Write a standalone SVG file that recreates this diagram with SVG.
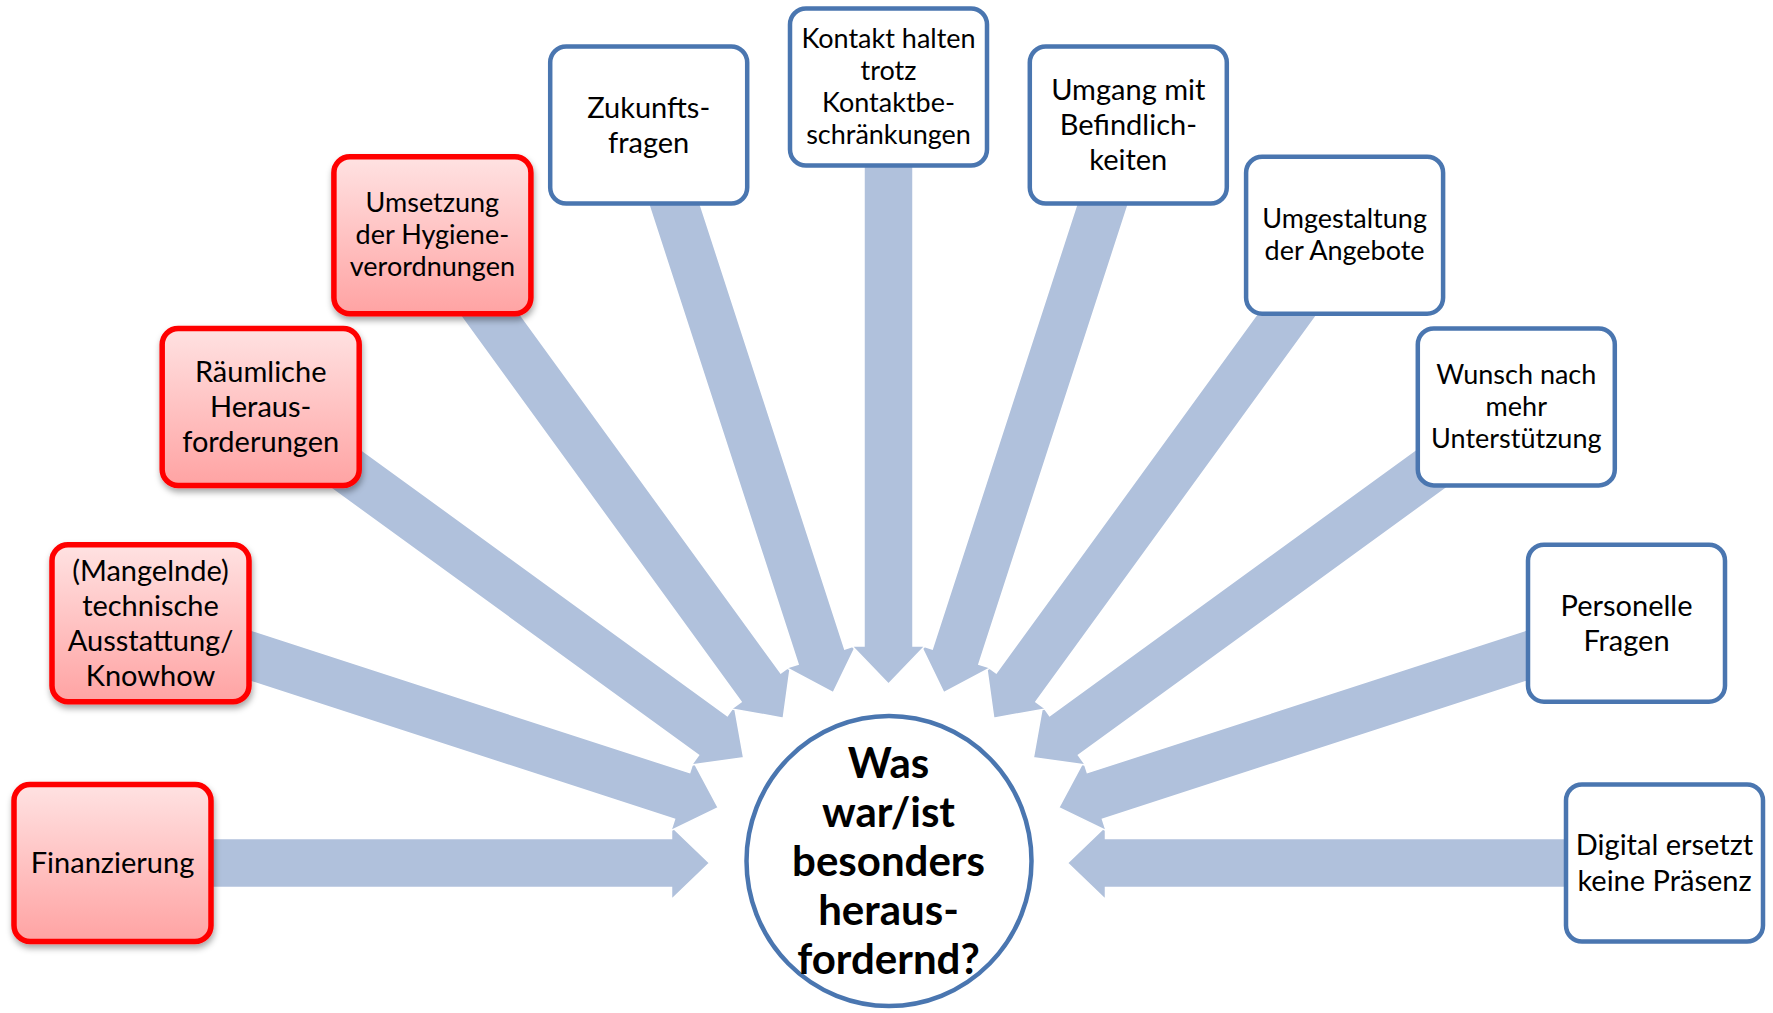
<svg xmlns="http://www.w3.org/2000/svg" width="1773" height="1013" viewBox="0 0 1773 1013">
<defs>
<linearGradient id="pink" x1="0" y1="0" x2="0" y2="1">
<stop offset="0" stop-color="#FFE2E2"/>
<stop offset="1" stop-color="#FFA3A3"/>
</linearGradient>
<filter id="shadow" x="-20%" y="-20%" width="140%" height="150%">
<feDropShadow dx="1" dy="4" stdDeviation="3" flood-color="#000" flood-opacity="0.35"/>
</filter>
<path id="arrow" d="M0,-179 L36.5,-217 L24.5,-217 L24.5,-776 L-24.5,-776 L-24.5,-217 L-36.5,-217 Z"/>
</defs>
<style>
.arr{fill:#B0C1DC;stroke:#FFFFFF;stroke-width:1.5;stroke-linejoin:miter}
.blue{fill:#FFFFFF;stroke:#4A76B0;stroke-width:4.5}
.red{fill:url(#pink);stroke:#FF0000;stroke-width:5.5;filter:url(#shadow)}
.t{font-family:Lato,"Open Sans","Liberation Sans",sans-serif;font-size:29px;fill:#000;text-anchor:middle}
.s{font-size:27px}
.c{font-family:Lato,"Open Sans","Liberation Sans",sans-serif;font-weight:bold;font-size:42px;fill:#000;text-anchor:middle}
</style>
<rect width="1773" height="1013" fill="#FFFFFF"/>
<g id="connectors">
<use href="#arrow" class="arr" transform="translate(888.5 863) rotate(-90)"/>
<use href="#arrow" class="arr" transform="translate(888.5 863) rotate(90)"/>
<use href="#arrow" class="arr" transform="translate(888.5 863) rotate(-72)"/>
<use href="#arrow" class="arr" transform="translate(888.5 863) rotate(72)"/>
<use href="#arrow" class="arr" transform="translate(888.5 863) rotate(-54)"/>
<use href="#arrow" class="arr" transform="translate(888.5 863) rotate(54)"/>
<use href="#arrow" class="arr" transform="translate(888.5 863) rotate(-36)"/>
<use href="#arrow" class="arr" transform="translate(888.5 863) rotate(36)"/>
<use href="#arrow" class="arr" transform="translate(888.5 863) rotate(-18)"/>
<use href="#arrow" class="arr" transform="translate(888.5 863) rotate(18)"/>
<use href="#arrow" class="arr" transform="translate(888.5 863)"/>
</g>
<g id="center">
<ellipse cx="889" cy="861" rx="142.5" ry="145" fill="#FFFFFF" stroke="#4A76B0" stroke-width="4.5"/>
<text class="c" x="888.5" y="778">Was</text>
<text class="c" x="888.5" y="827">war/ist</text>
<text class="c" x="888.5" y="876">besonders</text>
<text class="c" x="888.5" y="925">heraus-</text>
<text class="c" x="888.5" y="974">fordernd?</text>
</g>
<g id="finanzierung">
<rect class="red" x="14" y="784.5" width="197" height="157" rx="16"/>
<text class="t" x="112.5" y="873">Finanzierung</text>
</g>
<g id="mangelnde">
<rect class="red" x="52" y="544.7" width="197" height="157" rx="16"/>
<text class="t" x="150.5" y="580.7">(Mangelnde)</text>
<text class="t" x="150.5" y="615.7">technische</text>
<text class="t" x="150.5" y="650.7">Ausstattung/</text>
<text class="t" x="150.5" y="685.7">Knowhow</text>
</g>
<g id="raeumliche">
<rect class="red" x="162.2" y="328.4" width="197" height="157" rx="16"/>
<text class="t" x="260.7" y="382">Räumliche</text>
<text class="t" x="260.7" y="417">Heraus-</text>
<text class="t" x="260.7" y="452">forderungen</text>
</g>
<g id="umsetzung">
<rect class="red" x="333.9" y="156.7" width="197" height="157" rx="16"/>
<text class="t s" x="432.4" y="212.2">Umsetzung</text>
<text class="t s" x="432.4" y="244.2">der Hygiene-</text>
<text class="t s" x="432.4" y="276.2">verordnungen</text>
</g>
<g id="zukunft">
<rect class="blue" x="550.2" y="46.5" width="197" height="157" rx="16"/>
<text class="t" x="648.7" y="117.5">Zukunfts-</text>
<text class="t" x="648.7" y="152.5">fragen</text>
</g>
<g id="kontakt">
<rect class="blue" x="790" y="8.5" width="197" height="157" rx="16"/>
<text class="t s" x="888.5" y="48">Kontakt halten</text>
<text class="t s" x="888.5" y="80">trotz</text>
<text class="t s" x="888.5" y="112">Kontaktbe-</text>
<text class="t s" x="888.5" y="144">schränkungen</text>
</g>
<g id="umgang">
<rect class="blue" x="1029.8" y="46.5" width="197" height="157" rx="16"/>
<text class="t" x="1128.3" y="100">Umgang mit</text>
<text class="t" x="1128.3" y="135">Befindlich-</text>
<text class="t" x="1128.3" y="170">keiten</text>
</g>
<g id="umgestaltung">
<rect class="blue" x="1246.1" y="156.7" width="197" height="157" rx="16"/>
<text class="t s" x="1344.6" y="228.2">Umgestaltung</text>
<text class="t s" x="1344.6" y="260.2">der Angebote</text>
</g>
<g id="wunsch">
<rect class="blue" x="1417.8" y="328.4" width="197" height="157" rx="16"/>
<text class="t s" x="1516.3" y="383.9">Wunsch nach</text>
<text class="t s" x="1516.3" y="415.9">mehr</text>
<text class="t s" x="1516.3" y="447.9">Unterstützung</text>
</g>
<g id="personelle">
<rect class="blue" x="1528" y="544.7" width="197" height="157" rx="16"/>
<text class="t" x="1626.5" y="615.7">Personelle</text>
<text class="t" x="1626.5" y="650.7">Fragen</text>
</g>
<g id="digital">
<rect class="blue" x="1566" y="784.5" width="197" height="157" rx="16"/>
<text class="t" x="1664.5" y="855">Digital ersetzt</text>
<text class="t" x="1664.5" y="891">keine Präsenz</text>
</g>
</svg>
